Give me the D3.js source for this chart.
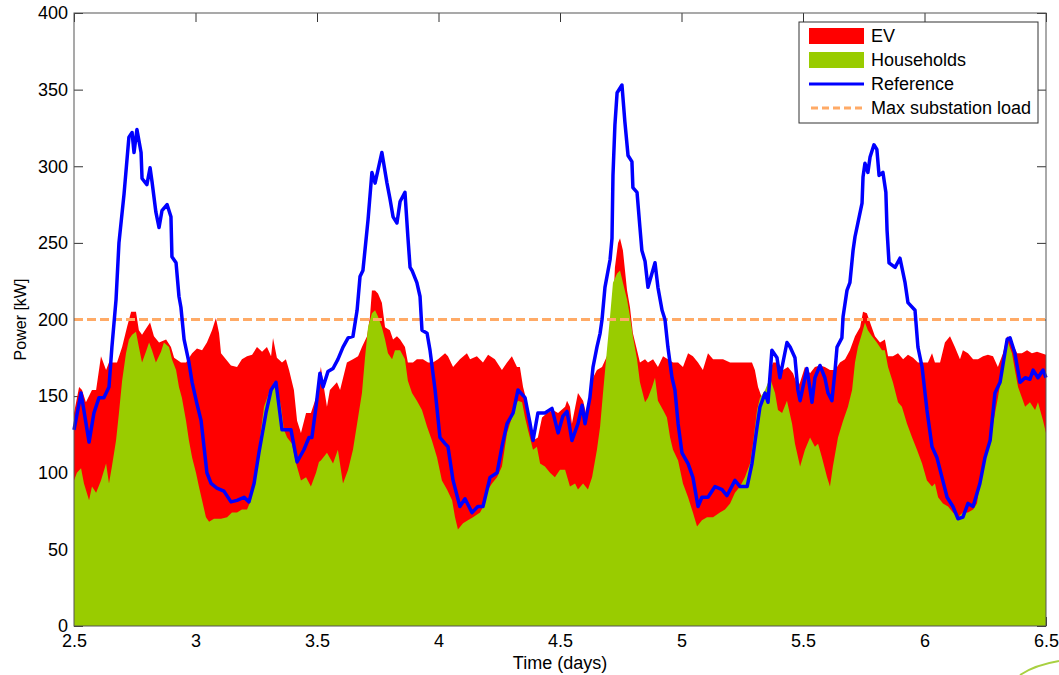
<!DOCTYPE html>
<html>
<head>
  <title>EV charging vs households</title>
  <script type="text/javascript" src="https://d3js.org/d3.v7.min.js"></script>
  <style type="text/css">
    body {
      margin: 0px;
      background: #fff;
      font-family: "Liberation Sans", Arial, sans-serif;
    }
    svg text { fill: #000; }
  </style>
</head>
<body>
  <svg width="1059" height="675"></svg>
  <script type="text/javascript">
    // [time in days, power in kW]
    var households = [[2.500,95],[2.512,100],[2.529,103],[2.541,93],[2.562,82],[2.574,91],[2.591,87],[2.611,95],[2.632,106],[2.644,93],[2.656,104],[2.673,121],[2.685,139],[2.698,160],[2.714,178],[2.726,187],[2.739,190],[2.755,192],[2.767,182],[2.780,172],[2.796,179],[2.809,185],[2.821,180],[2.837,172],[2.858,179],[2.870,185],[2.891,182],[2.903,174],[2.920,167],[2.932,156],[2.944,149],[2.961,134],[2.973,121],[2.986,110],[3.002,100],[3.014,91],[3.027,82],[3.043,71],[3.056,68],[3.076,70],[3.105,70],[3.130,71],[3.150,74],[3.171,74],[3.191,76],[3.212,76],[3.228,82],[3.249,102],[3.261,117],[3.282,143],[3.302,152],[3.323,159],[3.335,156],[3.352,143],[3.364,128],[3.377,123],[3.397,119],[3.414,106],[3.434,95],[3.455,97],[3.475,91],[3.496,100],[3.508,107],[3.516,108],[3.541,113],[3.566,106],[3.586,115],[3.607,93],[3.628,102],[3.648,115],[3.669,136],[3.685,152],[3.697,174],[3.710,195],[3.726,204],[3.739,206],[3.751,202],[3.767,195],[3.780,187],[3.792,178],[3.809,174],[3.821,180],[3.842,180],[3.862,174],[3.874,160],[3.891,152],[3.911,147],[3.932,141],[3.953,130],[3.973,121],[3.994,110],[4.014,95],[4.035,89],[4.056,82],[4.068,71],[4.080,63],[4.101,67],[4.121,69],[4.142,71],[4.171,74],[4.191,80],[4.204,89],[4.220,93],[4.241,97],[4.261,104],[4.282,126],[4.302,136],[4.315,143],[4.327,147],[4.344,146],[4.356,136],[4.368,128],[4.389,115],[4.405,117],[4.418,106],[4.438,104],[4.459,100],[4.479,97],[4.500,102],[4.521,102],[4.541,91],[4.562,93],[4.574,89],[4.595,93],[4.615,89],[4.632,97],[4.652,115],[4.665,130],[4.677,152],[4.693,180],[4.706,202],[4.718,224],[4.735,230],[4.747,232],[4.759,224],[4.776,213],[4.788,202],[4.800,189],[4.817,174],[4.829,159],[4.850,146],[4.862,149],[4.879,156],[4.891,162],[4.903,147],[4.924,141],[4.940,136],[4.953,123],[4.965,115],[4.986,108],[5.006,93],[5.027,84],[5.047,74],[5.064,65],[5.084,69],[5.105,71],[5.130,71],[5.158,74],[5.179,76],[5.200,80],[5.220,87],[5.241,91],[5.261,97],[5.282,106],[5.294,119],[5.311,141],[5.323,149],[5.344,154],[5.364,162],[5.385,152],[5.397,141],[5.414,139],[5.434,147],[5.455,132],[5.467,119],[5.488,104],[5.508,115],[5.529,123],[5.549,117],[5.562,119],[5.578,110],[5.599,97],[5.611,91],[5.623,104],[5.644,123],[5.665,134],[5.685,143],[5.702,154],[5.714,172],[5.726,182],[5.743,191],[5.755,198],[5.767,193],[5.784,189],[5.804,185],[5.825,180],[5.837,180],[5.850,169],[5.870,159],[5.891,146],[5.907,143],[5.928,132],[5.949,123],[5.969,115],[5.990,106],[6.010,95],[6.031,91],[6.043,93],[6.056,84],[6.076,80],[6.097,78],[6.117,74],[6.138,71],[6.158,74],[6.179,74],[6.200,76],[6.216,80],[6.228,93],[6.241,102],[6.261,115],[6.282,132],[6.302,149],[6.319,165],[6.331,180],[6.344,185],[6.360,178],[6.372,167],[6.385,156],[6.401,149],[6.414,143],[6.434,146],[6.455,141],[6.467,146],[6.488,134],[6.500,126]];

    // households + EV (top of the red area)
    var total = [[2.500,139],[2.521,156],[2.533,154],[2.549,146],[2.574,154],[2.591,154],[2.611,176],[2.632,167],[2.644,172],[2.656,172],[2.677,172],[2.698,182],[2.718,195],[2.735,205],[2.755,205],[2.767,193],[2.780,190],[2.796,194],[2.813,198],[2.829,189],[2.850,185],[2.879,187],[2.899,182],[2.912,175],[2.940,172],[2.961,172],[2.986,178],[3.006,181],[3.027,180],[3.047,185],[3.068,193],[3.084,201],[3.097,191],[3.105,178],[3.125,174],[3.146,170],[3.171,169],[3.191,174],[3.212,176],[3.233,177],[3.253,182],[3.274,179],[3.294,182],[3.311,176],[3.319,188],[3.335,175],[3.356,172],[3.372,174],[3.385,167],[3.405,154],[3.418,134],[3.434,126],[3.455,139],[3.475,139],[3.496,149],[3.516,169],[3.525,159],[3.541,143],[3.553,154],[3.582,159],[3.595,154],[3.623,172],[3.648,174],[3.669,176],[3.685,182],[3.706,189],[3.718,202],[3.726,219],[3.739,219],[3.751,217],[3.767,211],[3.780,195],[3.800,193],[3.813,187],[3.829,189],[3.842,187],[3.862,182],[3.874,172],[3.895,172],[3.911,174],[3.936,174],[3.957,172],[3.977,172],[3.998,174],[4.027,178],[4.039,176],[4.060,169],[4.088,174],[4.117,178],[4.130,174],[4.158,176],[4.183,172],[4.204,177],[4.232,174],[4.261,167],[4.282,172],[4.302,176],[4.323,169],[4.335,169],[4.348,156],[4.364,146],[4.385,123],[4.389,121],[4.409,123],[4.426,136],[4.447,139],[4.471,141],[4.492,139],[4.521,143],[4.529,147],[4.541,143],[4.549,132],[4.574,152],[4.595,147],[4.611,136],[4.623,146],[4.636,162],[4.652,167],[4.673,169],[4.693,176],[4.714,191],[4.726,234],[4.739,250],[4.747,253],[4.759,245],[4.776,219],[4.788,208],[4.800,191],[4.817,180],[4.829,172],[4.850,174],[4.862,172],[4.883,174],[4.903,169],[4.924,176],[4.944,174],[4.965,172],[4.986,172],[5.006,169],[5.027,178],[5.047,176],[5.068,172],[5.088,167],[5.109,178],[5.130,174],[5.150,174],[5.171,174],[5.200,172],[5.220,172],[5.249,172],[5.270,172],[5.290,172],[5.302,167],[5.315,156],[5.331,149],[5.352,154],[5.364,167],[5.377,172],[5.397,172],[5.418,167],[5.438,169],[5.459,165],[5.479,156],[5.488,159],[5.508,169],[5.529,165],[5.549,169],[5.570,170],[5.590,169],[5.611,167],[5.632,167],[5.652,172],[5.673,174],[5.693,180],[5.714,189],[5.735,195],[5.747,205],[5.763,204],[5.776,198],[5.796,189],[5.817,185],[5.837,187],[5.850,176],[5.870,176],[5.891,178],[5.912,174],[5.932,177],[5.953,175],[5.973,172],[5.994,172],[6.014,172],[6.031,178],[6.043,172],[6.064,172],[6.084,185],[6.105,189],[6.125,182],[6.146,174],[6.158,180],[6.179,178],[6.200,174],[6.220,174],[6.241,176],[6.261,177],[6.282,176],[6.302,169],[6.323,178],[6.340,189],[6.360,185],[6.381,178],[6.401,178],[6.422,180],[6.442,178],[6.463,179],[6.500,177]];

    var reference = [[2.500,128],[2.529,152],[2.562,120],[2.582,139],[2.603,149],[2.623,149],[2.644,156],[2.656,182],[2.673,213],[2.685,250],[2.706,282],[2.726,319],[2.739,322],[2.747,309],[2.759,324],[2.776,309],[2.780,292],[2.800,288],[2.813,299],[2.821,290],[2.837,270],[2.850,260],[2.862,271],[2.883,275],[2.899,267],[2.903,241],[2.920,237],[2.932,215],[2.940,208],[2.953,187],[2.973,172],[2.986,159],[3.006,145],[3.023,134],[3.035,117],[3.047,100],[3.064,93],[3.088,90],[3.117,88],[3.146,81],[3.171,82],[3.200,84],[3.220,81],[3.241,93],[3.261,113],[3.290,139],[3.311,154],[3.331,159],[3.344,143],[3.356,128],[3.393,128],[3.418,107],[3.446,115],[3.467,123],[3.479,123],[3.496,143],[3.512,165],[3.525,156],[3.545,166],[3.566,168],[3.586,174],[3.607,182],[3.628,188],[3.648,189],[3.665,206],[3.677,228],[3.689,232],[3.710,265],[3.726,296],[3.739,289],[3.767,309],[3.788,289],[3.800,279],[3.813,267],[3.829,263],[3.842,277],[3.862,283],[3.874,254],[3.883,234],[3.891,232],[3.911,224],[3.924,215],[3.932,193],[3.953,191],[3.965,180],[3.986,154],[4.006,123],[4.027,119],[4.039,117],[4.060,95],[4.088,78],[4.109,83],[4.138,74],[4.162,78],[4.183,78],[4.200,89],[4.212,97],[4.241,100],[4.261,117],[4.282,132],[4.307,139],[4.327,154],[4.356,149],[4.377,132],[4.389,121],[4.409,139],[4.438,139],[4.467,142],[4.492,126],[4.512,137],[4.529,140],[4.549,121],[4.574,132],[4.591,144],[4.603,132],[4.623,149],[4.636,169],[4.652,182],[4.665,191],[4.673,200],[4.685,221],[4.706,239],[4.714,253],[4.718,294],[4.726,327],[4.735,348],[4.755,353],[4.767,329],[4.780,307],[4.796,303],[4.800,286],[4.817,283],[4.829,260],[4.837,245],[4.850,238],[4.862,221],[4.891,237],[4.903,221],[4.920,206],[4.932,200],[4.944,182],[4.961,162],[4.973,154],[4.986,132],[5.002,113],[5.027,106],[5.047,97],[5.068,78],[5.084,84],[5.109,84],[5.138,91],[5.167,89],[5.187,85],[5.220,95],[5.241,91],[5.270,91],[5.290,106],[5.311,130],[5.323,143],[5.344,152],[5.356,146],[5.372,180],[5.393,175],[5.405,162],[5.434,185],[5.447,182],[5.467,175],[5.479,154],[5.488,147],[5.516,168],[5.537,146],[5.549,162],[5.570,170],[5.590,162],[5.603,152],[5.619,147],[5.632,167],[5.640,182],[5.660,188],[5.665,202],[5.681,219],[5.693,224],[5.706,245],[5.714,254],[5.726,263],[5.743,276],[5.747,293],[5.755,302],[5.767,296],[5.776,306],[5.792,314],[5.804,311],[5.813,294],[5.829,296],[5.841,283],[5.846,258],[5.854,237],[5.879,234],[5.899,240],[5.920,224],[5.932,211],[5.961,206],[5.973,182],[5.990,169],[6.010,141],[6.031,117],[6.051,110],[6.072,97],[6.093,84],[6.117,78],[6.138,70],[6.158,71],[6.179,80],[6.200,78],[6.228,93],[6.249,110],[6.270,121],[6.290,152],[6.311,159],[6.340,187],[6.352,188],[6.372,178],[6.393,159],[6.414,162],[6.434,161],[6.447,167],[6.467,162],[6.488,167],[6.500,162]];

    var maxLoad = 200;
    var xTicks = [2.5, 3, 3.5, 4, 4.5, 5, 5.5, 6, 6.5];
    var yTicks = [0, 50, 100, 150, 200, 250, 300, 350, 400];
    var legendNames = ["EV", "Households", "Reference", "Max substation load"];

    var svg = d3.select("svg");
    var plotL = 74, plotR = 1046, plotT = 13, plotB = 626;

    var x = d3.scaleLinear().domain([2.5, 6.5]).range([plotL, plotR]);
    var y = d3.scaleLinear().domain([0, 400]).range([plotB, plotT]);

    // ticks (inward, MATLAB style) sit under the filled areas
    svg.append("g")
      .attr("transform", `translate(0,${plotB})`)
      .call(d3.axisBottom(x).tickValues(xTicks).tickFormat(d3.format("")).tickSize(-9).tickPadding(8))
      .call(g => g.select(".domain").remove());
    svg.append("g")
      .attr("transform", `translate(${plotL},0)`)
      .call(d3.axisLeft(y).tickValues(yTicks).tickSize(-9).tickPadding(6))
      .call(g => g.select(".domain").remove());
    svg.append("g")
      .attr("transform", `translate(0,${plotT})`)
      .call(d3.axisTop(x).tickValues(xTicks).tickFormat("").tickSize(-9))
      .call(g => g.select(".domain").remove());
    svg.append("g")
      .attr("transform", `translate(${plotR},0)`)
      .call(d3.axisRight(y).tickValues(yTicks).tickFormat("").tickSize(-9))
      .call(g => g.select(".domain").remove());

    svg.selectAll(".tick line").attr("stroke", "#333");
    svg.selectAll(".tick text")
      .attr("font-family", "'Liberation Sans', Arial, sans-serif")
      .attr("font-size", 18);

    var area = d3.area()
      .x(d => x(d[0]))
      .y0(y(0))
      .y1(d => y(d[1]));

    svg.append("path").datum(total)
      .attr("fill", "#ff0000")
      .attr("d", area);

    svg.append("path").datum(households)
      .attr("fill", "#99cc00")
      .attr("d", area);

    svg.append("line")
      .attr("x1", x(2.5)).attr("x2", x(6.5))
      .attr("y1", y(maxLoad)).attr("y2", y(maxLoad))
      .attr("stroke", "#ffaa66")
      .attr("stroke-width", 3)
      .attr("stroke-dasharray", "9,4");

    var line = d3.line()
      .x(d => x(d[0]))
      .y(d => y(d[1]));

    svg.append("path").datum(reference)
      .attr("fill", "none")
      .attr("stroke", "#0000ff")
      .attr("stroke-width", 3.5)
      .attr("stroke-linejoin", "round")
      .attr("d", line);

    // axes box
    svg.append("rect")
      .attr("x", plotL).attr("y", plotT)
      .attr("width", plotR - plotL).attr("height", plotB - plotT)
      .attr("fill", "none")
      .attr("stroke", "#555")
      .attr("stroke-width", 1);

    // axis titles
    svg.append("text")
      .attr("x", (plotL + plotR) / 2).attr("y", 669)
      .attr("text-anchor", "middle")
      .attr("font-size", 18)
      .text("Time (days)");

    svg.append("text")
      .attr("transform", `translate(26,${(plotT + plotB) / 2}) rotate(-90)`)
      .attr("text-anchor", "middle")
      .attr("font-size", 16)
      .text("Power [kW]");

    // legend
    var lg = svg.append("g").attr("transform", "translate(799,22)");
    lg.append("rect")
      .attr("width", 239).attr("height", 101)
      .attr("fill", "#fff")
      .attr("stroke", "#333")
      .attr("stroke-width", 1);

    var rows = lg.selectAll("g.row").data(legendNames).enter().append("g")
      .attr("transform", (d, i) => `translate(0,${14 + i * 24})`);

    rows.filter((d, i) => i < 2).append("rect")
      .attr("x", 10).attr("y", -8)
      .attr("width", 55).attr("height", 16)
      .attr("fill", (d, i) => i === 0 ? "#ff0000" : "#99cc00");

    rows.filter((d, i) => i === 2).append("line")
      .attr("x1", 10).attr("x2", 65)
      .attr("stroke", "#0000ff").attr("stroke-width", 3);

    rows.filter((d, i) => i === 3).append("line")
      .attr("x1", 12).attr("x2", 65)
      .attr("stroke", "#ffaa66").attr("stroke-width", 3)
      .attr("stroke-dasharray", "7,4");

    rows.append("text")
      .attr("x", 72).attr("dy", "0.36em")
      .attr("font-size", 18)
      .text(d => d);

    // decorative slide arc, bottom right
    svg.append("path")
      .attr("d", "M1059,661 Q1035,665 1020,675")
      .attr("fill", "none")
      .attr("stroke", "#a8d040")
      .attr("stroke-width", 2);
  </script>
</body>
</html>
